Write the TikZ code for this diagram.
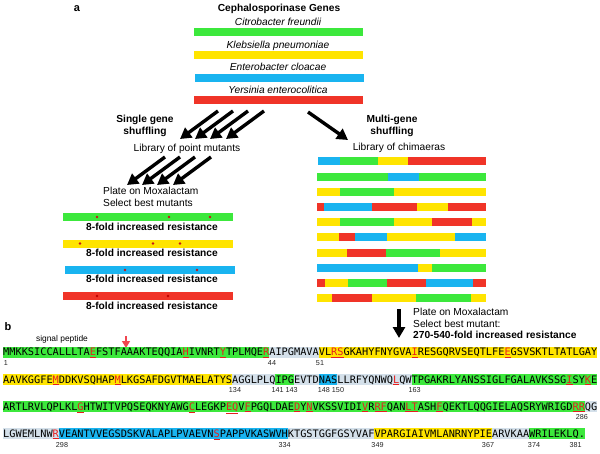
\documentclass[tikz,border=0pt]{standalone}
\usepackage{fontspec}
\setmainfont{Liberation Sans}
\newfontfamily\seqfont{DejaVu Sans Mono}
\usetikzlibrary{arrows.meta}
\definecolor{cgreen}{RGB}{60,232,60}
\definecolor{cyellow}{RGB}{255,228,0}
\definecolor{cblue}{RGB}{25,180,240}
\definecolor{cred}{RGB}{240,52,40}
\definecolor{cgray}{RGB}{212,224,234}
\definecolor{seqred}{RGB}{230,30,30}
\definecolor{dotred}{RGB}{200,20,20}
\definecolor{sigred}{RGB}{240,70,80}
\newcommand{\rl}[1]{\textcolor{seqred}{\underline{#1}}}
\newcommand{\seg}[4]{\fill[#4] ({3+#2*6.19},{#1-5.5}) rectangle ({3+(#3+1)*6.19},{#1+5.5});}
\newcommand{\cbar}[4]{\fill[#4] ({#2},{#1-4}) rectangle ({#3},{#1+4});}
\newcommand{\chim}[2]{\foreach \a/\b/\c in {#2} {\fill[\c] (\a,{#1-4}) rectangle (\b,{#1+4});}}
\newcommand{\rdot}[3][dotred]{\fill[#1] (#2,#3) circle (1.4);}
\tikzset{
  lbl/.style={font=\fontsize{10.2}{12}\selectfont, inner sep=0pt, text height=7.3pt, text depth=2.1pt},
  blbl/.style={lbl, font=\fontsize{10.2}{12}\selectfont\bfseries},
  ilbl/.style={lbl, font=\fontsize{10.2}{12}\selectfont\itshape},
  num/.style={font=\fontsize{7.2}{8}\selectfont, inner sep=0pt, text height=5.2pt, text depth=0pt, text=black!85},
  seq/.style={font=\seqfont\fontsize{10.28}{12}\selectfont, inner sep=0pt, anchor=west, text height=7.5pt, text depth=0pt},
  bigarrow/.style={line width=3.4pt, -{Triangle[length=11pt,width=12pt]}},
}
\begin{document}
\begin{tikzpicture}[x=1pt,y=-1pt]
\fill[white] (0,0) rectangle (600,453);
\useasboundingbox (0,0) rectangle (600,453);

% ---------------- panel a ----------------
\node[blbl, font=\fontsize{11}{12}\selectfont\bfseries] (la) at (77,9) {a};
\node[blbl] (title) at (279,9) {Cephalosporinase Genes};
\node[ilbl] (g1) at (278,23) {Citrobacter freundii};
\cbar{32}{194}{363}{cgreen}
\node[ilbl] (g2) at (278,46) {Klebsiella pneumoniae};
\cbar{55}{194}{363}{cyellow}
\node[ilbl] (g3) at (278,68) {Enterobacter cloacae};
\cbar{77.5}{195}{364}{cblue}
\node[ilbl] (g4) at (278,91) {Yersinia enterocolitica};
\cbar{100}{194}{363}{cred}

% single gene shuffling
\foreach \i/\tx/\hx in {1/218/180, 2/233/195, 3/248/210, 4/264/226} {
  \coordinate (ta\i) at (\tx,111);
  \coordinate (ha\i) at (\hx,139);
  \draw[bigarrow] (ta\i) -- (ha\i);
}
\node[blbl] (sg1) at (145,120) {Single gene};
\node[blbl] (sg2) at (145,132) {shuffling};
\node[lbl] (lib1) at (187,149) {Library of point mutants};
\foreach \i/\tx/\hx in {1/165/127, 2/180/142, 3/195/157, 4/211/173} {
  \coordinate (tb\i) at (\tx,157);
  \coordinate (hb\i) at (\hx,185);
  \draw[bigarrow] (tb\i) -- (hb\i);
}
\node[lbl, anchor=west] (pl1) at (103,192) {Plate on Moxalactam};
\node[lbl, anchor=west] (pl2) at (103,203.5) {Select best mutants};

\cbar{217}{63}{233}{cgreen}
\rdot{97}{217}\rdot{169}{217}\rdot{210}{217}
\node[blbl] (r1) at (152,228) {8-fold increased resistance};
\cbar{243.5}{63}{233}{cyellow}
\rdot{80}{243.5}\rdot{153}{243.5}\rdot{180}{243.5}
\node[blbl] (r2) at (152,254) {8-fold increased resistance};
\cbar{270}{65}{235}{cblue}
\rdot{125}{270}\rdot{197}{270}
\node[blbl] (r3) at (152,280) {8-fold increased resistance};
\cbar{296}{63}{233}{cred}
\rdot[red!75!black]{97}{296}\rdot[red!75!black]{168}{296}
\node[blbl] (r4) at (152,306.5) {8-fold increased resistance};

% multi gene shuffling
\coordinate (tc) at (308,112);
\coordinate (hc) at (348,140);
\draw[bigarrow] (tc) -- (hc);
\node[blbl] (mg1) at (392,120) {Multi-gene};
\node[blbl] (mg2) at (392,132) {shuffling};
\node[lbl] (lib2) at (399,148) {Library of chimaeras};

\chim{161}{318/340/cblue, 340/378/cgreen, 378/408/cyellow, 408/486/cred}
\chim{177}{317/388/cgreen, 388/419/cblue, 419/486/cgreen}
\chim{192}{317/340/cyellow, 340/394/cgreen, 394/486/cyellow}
\chim{207}{317/324/cred, 324/372/cblue, 372/417/cred, 417/448/cyellow, 448/486/cred}
\chim{222}{317/340/cyellow, 340/394/cgreen, 394/432/cyellow, 432/472/cred, 472/486/cyellow}
\chim{237}{317/339/cyellow, 339/355/cred, 355/387/cblue, 387/455/cyellow, 455/486/cblue}
\chim{253}{317/347/cyellow, 347/386/cred, 386/440/cgreen, 440/486/cyellow}
\chim{268}{317/418/cblue, 418/432/cyellow, 432/486/cgreen}
\chim{283}{317/325/cred, 325/348/cyellow, 348/387/cgreen, 387/426/cred, 426/473/cblue, 473/486/cred}
\chim{298}{317/332/cyellow, 332/372/cred, 372/416/cyellow, 416/471/cgreen, 471/486/cyellow}

\coordinate (td) at (399,309);
\coordinate (hd) at (399,338);
\draw[bigarrow] (td) -- (hd);
\node[lbl, anchor=west] (pm1) at (413,313) {Plate on Moxalactam};
\node[lbl, anchor=west] (pm2) at (413,324.5) {Select best mutant:};
\node[blbl, anchor=west] (pm3) at (413,336) {270-540-fold increased resistance};

% ---------------- panel b ----------------
\node[blbl, font=\fontsize{11}{12}\selectfont\bfseries] (lb) at (8,328) {b};
\node[lbl, font=\fontsize{8.4}{10}\selectfont] (sp) at (62,339) {signal peptide};
\coordinate (sa1) at (126,336);
\coordinate (sa2) at (126,348);
\draw[sigred, line width=1.3pt, -{Triangle[length=7pt,width=8pt]}] (sa1) -- (sa2);

% row 1
\seg{352}{0}{42}{cgreen}
\seg{352}{43}{50}{cgray}
\seg{352}{51}{95}{cyellow}
\node[seq] (s1) at (3,352) {MMKKSICCALLLTA\rl{E}FSTFAAAKTEQQIA\rl{H}IVNRT\rl{Y}TPLMQE\rl{R}AIPGMAVAVL\rl{RS}GKAHYFNYGVA\rl{I}RESGQRVSEQTLFE\rl{E}GSVSKTLTATLGAY};
\node[num] (n1) at (6,362.5) {1};
\node[num] (n44) at (272,362.5) {44};
\node[num] (n51) at (320,362.5) {51};

% row 2
\seg{379.5}{0}{36}{cyellow}
\seg{379.5}{37}{43}{cgray}
\seg{379.5}{44}{46}{cgreen}
\seg{379.5}{47}{50}{cgray}
\seg{379.5}{51}{53}{cblue}
\seg{379.5}{54}{65}{cgray}
\seg{379.5}{66}{95}{cgreen}
\node[seq] (s2) at (3,379.5) {AAVKGGFE\rl{M}DDKVSQHAP\rl{M}LKGSAFDGVTMAELATYSAGGLPLQIPGEVTDNASLLRFYQNWQ\rl{L}QWTPGAKRLYANSSIGLFGALAVKSSG\rl{I}SY\rl{K}E};
\node[num] (n134) at (235,390) {134};
\node[num] (n141) at (284.6,390) {141 143};
\node[num] (n148) at (331,390) {148 150};
\node[num] (n163) at (414.6,390) {163};

% row 3
\seg{406.5}{0}{93}{cgreen}
\seg{406.5}{94}{95}{cgray}
\node[seq] (s3) at (3,406.5) {ARTLRVLQPLKL\rl{G}HTWITVPQSEQKNYAWG\rl{C}LEGKP\rl{EQ}V\rl{F}PGQLDAE\rl{D}Y\rl{N}VKSSVIDI\rl{V}R\rl{RF}QAN\rl{LT}ASH\rl{F}QEKTLQQGIELAQSRYWRIGD\rl{RR}QG};
\node[num] (n286) at (581.8,417) {286};

% row 4
\seg{433.5}{0}{8}{cgray}
\seg{433.5}{9}{45}{cblue}
\seg{433.5}{46}{59}{cgray}
\seg{433.5}{60}{78}{cyellow}
\seg{433.5}{79}{84}{cgray}
\seg{433.5}{85}{93}{cgreen}
\node[seq] (s4) at (3,433.5) {LGWEMLNW\rl{R}VEANTVVEGSDSKVALAPLPVAEVN\rl{S}PAPPVKASWVHKTGSTGGFGSYVAFVPARGIAIVMLANRNYPIEARVKAAWRILEKLQ.};
\node[num] (n298) at (62,444.5) {298};
\node[num] (n334) at (284.6,444.5) {334};
\node[num] (n349) at (377.5,444.5) {349};
\node[num] (n367) at (488,444.5) {367};
\node[num] (n374) at (534,444.5) {374};
\node[num] (n381) at (575.6,444.5) {381};
\end{tikzpicture}
\end{document}
